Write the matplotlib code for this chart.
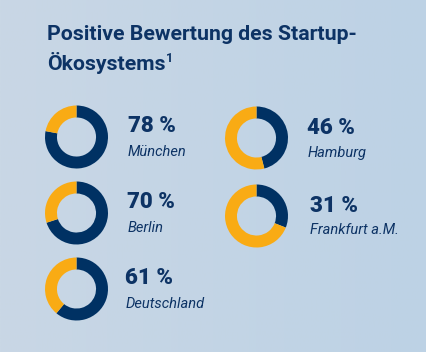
import numpy as np
import matplotlib
matplotlib.use("Agg")
import matplotlib.pyplot as plt
from matplotlib.colors import LinearSegmentedColormap

# Data
cities = ["München", "Berlin", "Deutschland", "Hamburg", "Frankfurt a.M."]
values = [78, 70, 61, 46, 31]
title_lines = ["Positive Bewertung des Startup-", "Ökosystems"]
footnote = "1"

NAVY = "#003163"
ORANGE = "#f9ab14"
TEXT = "#0d3365"

W, H = 427, 352
fig = plt.figure(figsize=(W / 100, H / 100), dpi=100)

# background gradient
bg = fig.add_axes([0, 0, 1, 1])
bg.set_axis_off()
cmap = LinearSegmentedColormap.from_list("bg", ["#c9d7e5", "#bdd2e5"])
bg.imshow(np.linspace(0, 1, 256)[None, :], aspect="auto", cmap=cmap,
          extent=[0, 1, 0, 1])
bg.set_xlim(0, 1)
bg.set_ylim(0, 1)

# title
TFS = 15.3
fig.text(47 / W, 1 - 40 / H, title_lines[0], fontsize=TFS, fontweight="bold",
         family="Roboto", color=TEXT, va="baseline", ha="left")
t2 = fig.text(47 / W, 1 - 70 / H, title_lines[1], fontsize=TFS,
              fontweight="bold", family="Roboto", color=TEXT,
              va="baseline", ha="left")
fig.canvas.draw()
bb = t2.get_window_extent()
fig.text((bb.x1 + 0.5) / W, 1 - 62 / H, footnote, fontsize=9,
         fontweight="bold", family="Roboto", color=TEXT,
         va="baseline", ha="left")

# layout positions (pixel centres)
centers = [(76.5, 137), (76.5, 213), (76.5, 289), (256.5, 138), (256.5, 216)]
text_x = [128, 127.5, 125.5, 307.5, 310]
R = 31.5

for (cx, cy), tx, city, v in zip(centers, text_x, cities, values):
    ax = fig.add_axes([(cx - R) / W, 1 - (cy + R) / H, 2 * R / W, 2 * R / H])
    ax.pie([v, 100 - v], colors=[NAVY, ORANGE], startangle=90,
           counterclock=False, radius=1,
           wedgeprops=dict(width=0.38, linewidth=0))
    ax.set_xlim(-1, 1)
    ax.set_ylim(-1, 1)
    ax.set_aspect("equal")
    ax.set_axis_off()
    fig.text(tx / W, 1 - (cy - 4.5) / H, f"{v} %", fontsize=16,
             fontweight="black", family="Roboto", color=TEXT,
             va="baseline", ha="left")
    fig.text(tx / W, 1 - (cy + 18.5) / H, city, fontsize=10.5,
             style="italic", family="Roboto", color=TEXT,
             va="baseline", ha="left")

fig.savefig("out.png", dpi=100)
